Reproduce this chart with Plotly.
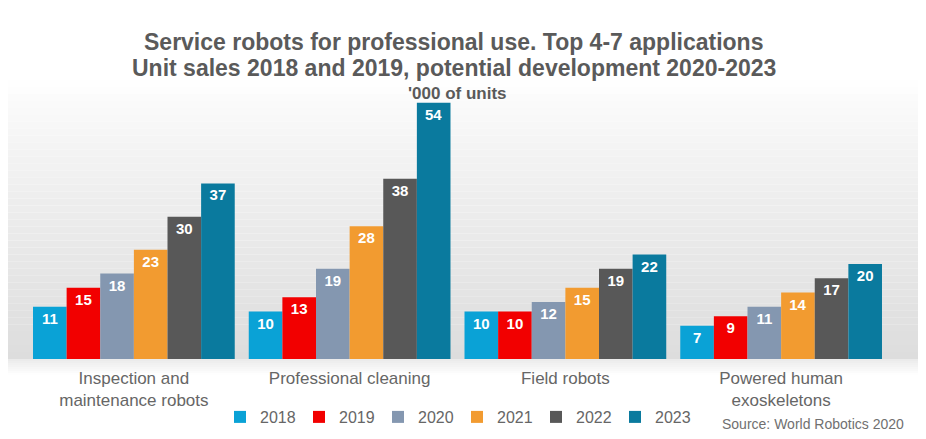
import plotly.graph_objects as go

categories = ["Inspection and<br>maintenance robots", "Professional cleaning", "Field robots", "Powered human<br>exoskeletons"]
years = ["2018", "2019", "2020", "2021", "2022", "2023"]
v2018 = [11, 10, 10, 7]
v2019 = [15, 13, 10, 9]
v2020 = [18, 19, 12, 11]
v2021 = [23, 28, 15, 14]
v2022 = [30, 38, 19, 17]
v2023 = [37, 54, 22, 20]
series = [v2018, v2019, v2020, v2021, v2022, v2023]
colors = ["#0AA2D6", "#F20000", "#8497B0", "#F29B30", "#585858", "#0A7A9E"]

FONT = "Arial, Liberation Sans, sans-serif"
W, H = 926, 439
OFF = 8  # page body margin compensation
ML, MT = 26 - OFF, 98 - OFF
BASE = 359 - OFF
RIGHT = 889 - OFF
MR = W - RIGHT
MB = H - BASE
PW, PH = RIGHT - ML, BASE - MT

def py(yref_px):
    return (BASE - (yref_px - OFF)) / PH

def px(xref_px):
    return ((xref_px - OFF) - ML) / PW

fig = go.Figure()
for y, vals, c in zip(years, series, colors):
    fig.add_trace(go.Bar(
        name=y, x=categories, y=vals, marker=dict(color=c, line=dict(width=0)),
        text=[str(v) for v in vals], textposition="inside", insidetextanchor="end",
        textfont=dict(family=FONT, size=15, color="white", weight="bold"),
        cliponaxis=False,
    ))

# background gradient (styling)
shapes = []
x0p = px(0)
x1p = px(W + OFF)
top, base = 80, 359
n = 40
for i in range(n):
    ya = top + (base - top) * i / n
    yb = top + (base - top) * (i + 1) / n
    t = (i + 0.5) / n
    g = int(round(255 - 34 * (t ** 0.8)))
    shapes.append(dict(type="rect", xref="paper", yref="paper", x0=x0p, x1=x1p,
                       y0=py(yb), y1=py(ya), fillcolor=f"rgb({g},{g},{g})",
                       line=dict(width=0), layer="below"))
for i in range(8):
    ya = base + i * 2
    yb = base + (i + 1) * 2
    g = int(round(234 + 21 * (i + 0.5) / 8))
    shapes.append(dict(type="rect", xref="paper", yref="paper", x0=x0p, x1=x1p,
                       y0=py(yb), y1=py(ya), fillcolor=f"rgb({g},{g},{g})",
                       line=dict(width=0), layer="below"))

annotations = [
    dict(text="<b>Service robots for professional use. Top 4-7 applications</b>",
         xref="paper", yref="paper", x=px(453), y=py(42), showarrow=False,
         font=dict(family=FONT, size=23, color="#5a5a5a"), xanchor="center", yanchor="middle"),
    dict(text="<b>Unit sales 2018 and 2019, potential development 2020-2023</b>",
         xref="paper", yref="paper", x=px(454), y=py(68), showarrow=False,
         font=dict(family=FONT, size=23, color="#5a5a5a"), xanchor="center", yanchor="middle"),
    dict(text="<b>'000 of units</b>",
         xref="paper", yref="paper", x=px(457), y=py(93), showarrow=False,
         font=dict(family=FONT, size=17, color="#5a5a5a"), xanchor="center", yanchor="middle"),
    dict(text="Source: World Robotics 2020",
         xref="paper", yref="paper", x=px(906), y=py(424), showarrow=False,
         font=dict(family=FONT, size=14, color="#707070"), xanchor="right", yanchor="middle"),
]

fig.update_layout(
    width=W, height=H,
    margin=dict(l=ML, r=MR, t=MT, b=MB, autoexpand=False),
    paper_bgcolor="white", plot_bgcolor="rgba(0,0,0,0)",
    barmode="group", bargap=0.065, bargroupgap=0,
    uniformtext=dict(minsize=15, mode="show"),
    font=dict(family=FONT, color="#666666"),
    xaxis=dict(showgrid=False, showline=False, zeroline=False, ticks="",
               tickfont=dict(family=FONT, size=17, color="#666666"), ticklabelstandoff=7),
    yaxis=dict(range=[0, 55], visible=False, showgrid=False, zeroline=False),
    showlegend=True,
    legend=dict(orientation="h", x=px(220), y=py(417), xanchor="left", yanchor="middle",
                font=dict(family=FONT, size=16, color="#666666"), bgcolor="rgba(0,0,0,0)",
                itemwidth=30, entrywidth=34, entrywidthmode="pixels", traceorder="normal"),
    shapes=shapes, annotations=annotations,
)

fig.write_html("out.html")
